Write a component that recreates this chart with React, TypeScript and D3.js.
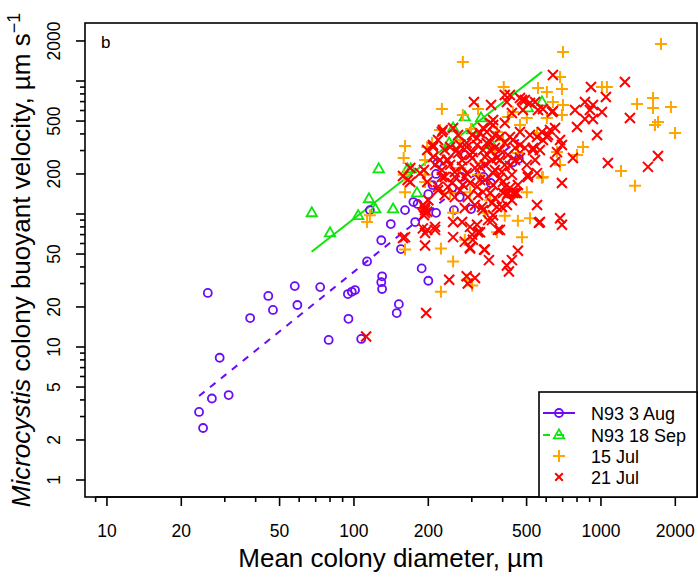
import React from 'react';
import * as d3 from 'd3';

// N93 3 Aug (purple circles): [diameter µm, velocity µm/s]
const aug3Points: [number, number][] = [
  [25.6, 25.5], [23.6, 3.25], [24.5, 2.46], [26.6, 4.1], [31.1, 4.35], [28.6, 8.3], [38, 16.5],
  [45, 24.2], [47, 19], [57.6, 28.7], [59, 20.7], [73, 28.2], [79, 11.3], [94.5, 25], [98, 26],
  [101, 26.8], [95, 16.3], [107, 11.5], [113, 44], [129, 63.5], [130, 34], [129, 30.7], [130, 27.3],
  [141, 84], [152, 21], [149, 18], [155, 54.5], [161, 107], [116, 107], [177, 87], [174, 123],
  [181, 119], [188, 39], [200, 31.5], [200, 141], [215, 102], [208, 165], [215, 200], [218, 242],
  [298, 109], [254, 107], [282, 277], [465, 260], [440, 245], [335, 190], [272, 190], [358, 171],
  [250, 157], [268, 134],
];

// N93 18 Sep (green triangles)
const sep18Points: [number, number][] = [
  [67.5, 102], [80, 72], [104, 97], [115, 130], [122, 109], [126, 218], [144, 109], [165, 218],
  [170, 218], [180, 144], [243, 342], [252, 443], [281, 536], [301, 428], [327, 527], [362, 330],
  [506, 627], [577, 695],
];

// 15 Jul (orange plus)
const jul15Points: [number, number][] = [
  [276, 1390], [702, 1652], [1750, 1897], [683, 1072], [695, 871], [556, 885], [604, 826], [404, 901],
  [1009, 901], [1057, 901], [639, 695], [702, 661], [695, 555], [604, 527], [1400, 671], [1625, 745],
  [1625, 627], [1920, 638], [1655, 467], [1702, 492], [1995, 407], [1205, 211], [1373, 163], [846, 319],
  [800, 278], [664, 292], [683, 234], [582, 190], [227, 616], [276, 555], [318, 616], [440, 584],
  [501, 527], [420, 536], [298, 436], [379, 414], [470, 467], [551, 407], [401, 360], [372, 303],
  [461, 287], [269, 360], [207, 342], [161, 325], [159, 264], [194, 255], [159, 197], [161, 146],
  [194, 174], [501, 146], [408, 97], [461, 89], [516, 93], [479, 67], [379, 73], [339, 102],
  [245, 144], [295, 146], [252, 102], [225, 55], [252, 44], [225, 26], [301, 29], [286, 32],
  [281, 64], [161, 54], [116, 98], [113, 87], [333, 242], [269, 222], [577, 187], [194, 197],
  [356, 127], [318, 197], [223, 428], [198, 319],
];

// 21 Jul (red cross)
const jul21Points: [number, number][] = [
  [639, 1109], [1250, 982], [911, 901], [1047, 758], [861, 695], [928, 661], [902, 605], [785, 605],
  [1009, 584], [861, 518], [928, 518], [800, 451], [964, 393], [1310, 527], [639, 595], [582, 616],
  [1067, 242], [1550, 226], [1702, 273], [770, 264], [652, 246], [695, 330], [664, 292], [604, 379],
  [306, 695], [359, 661], [408, 785], [416, 695], [470, 745], [492, 720], [541, 695], [634, 584],
  [695, 171], [551, 117], [683, 93], [695, 83], [561, 86], [506, 190], [551, 203], [428, 230],
  [470, 264], [449, 314], [531, 303], [582, 360], [610, 393], [652, 443], [227, 414], [198, 303],
  [209, 319], [229, 428], [252, 443], [333, 443], [356, 483], [366, 509], [408, 483], [390, 379],
  [315, 373], [286, 342], [261, 303], [238, 255], [256, 207], [286, 203], [324, 226], [362, 255],
  [366, 203], [390, 187], [428, 157], [401, 144], [372, 132], [333, 146], [309, 117], [281, 111],
  [252, 87], [295, 80], [318, 73], [213, 80], [194, 72], [161, 67], [194, 111], [227, 190],
  [219, 160], [198, 174], [185, 203], [165, 180], [169, 222], [333, 303], [390, 303], [356, 348],
  [295, 278], [315, 160], [339, 180], [436, 127], [416, 139], [440, 144], [461, 53], [436, 45],
  [416, 41], [424, 37], [352, 45], [336, 54], [243, 32], [286, 34], [309, 33], [289, 30],
  [196, 18], [194, 58], [198, 76], [213, 76], [252, 67], [295, 56], [303, 64], [301, 70],
  [324, 73], [315, 83], [349, 90], [390, 76], [274, 87], [158, 66], [366, 98], [333, 107],
  [379, 113], [416, 117], [449, 144], [401, 174], [169, 174], [194, 113], [194, 107], [194, 102],
  [190, 78], [281, 62], [295, 55], [339, 54], [383, 76], [362, 90], [397, 113], [457, 144],
  [420, 144], [506, 197], [566, 87], [233, 190], [256, 190], [281, 190], [219, 151], [256, 134],
  [289, 134], [330, 113], [362, 121], [356, 144], [366, 165], [324, 180], [408, 160], [397, 207],
  [309, 222], [274, 226], [227, 214], [240, 160], [276, 165], [428, 785], [479, 720], [516, 683],
  [556, 605], [436, 574], [483, 605], [366, 467], [345, 414], [324, 407], [301, 393], [264, 393],
  [219, 360], [209, 330], [209, 268], [245, 319], [264, 287], [286, 319], [315, 330], [345, 342],
  [372, 314], [408, 342], [440, 360], [470, 414], [516, 393], [551, 379], [577, 414], [492, 314],
  [531, 314], [420, 278], [379, 264], [339, 268], [301, 264], [274, 255], [240, 255], [112, 12],
  [158, 193], [192, 214], [190, 117], [198, 104], [192, 98], [200, 127], [233, 139], [250, 171],
  [269, 151], [295, 171], [318, 139], [339, 234], [372, 214], [408, 234], [436, 197], [461, 165],
  [501, 234], [541, 255], [470, 330], [428, 379], [372, 393], [269, 330], [245, 234], [223, 255],
  [213, 234], [233, 303], [303, 292], [356, 303], [390, 255], [449, 255], [566, 303], [622, 428],
  [683, 360],
];

// fitted power-law lines (end points, data units)
const aug3Fit: [number, number][] = [[23.6, 4.28], [465, 363]];
const sep18Fit: [number, number][] = [[67.4, 52.1], [577, 1171]];

const xMajorTicks = [10, 20, 50, 100, 200, 500, 1000, 2000];
const xMinorTicks = [9, 30, 40, 60, 70, 80, 90, 300, 400, 600, 700, 800, 900];
const yMajorTicks = [1, 2, 5, 10, 20, 50, 100, 200, 500, 1000, 2000];
const yTickLabels = ['1', '2', '5', '10', '20', '50', '', '200', '500', '', '2000'];
const yMinorTicks = [3, 4, 6, 7, 8, 9, 30, 40, 60, 70, 80, 90, 300, 400, 600, 700, 800, 900];
const legendLabels = ['N93 3 Aug', 'N93 18 Sep', '15 Jul', '21 Jul'];

const PURPLE = '#6a0cf5';
const GREEN = '#0ee40e';
const ORANGE = '#ffa500';
const RED = '#ff0000';
const FONT = '"Liberation Sans", Arial, Helvetica, sans-serif';

const W = 698, H = 578;
const L = 85, R = 697, T = 23, B = 497;

const Circle = ({ x, y, c }: any) => <circle cx={x} cy={y} r={4} fill="none" stroke={c} strokeWidth={1.8} />;
const Tri = ({ x, y, c }: any) => (
  <path d={`M${x},${y - 5.6}L${x + 5.2},${y + 3.4}L${x - 5.2},${y + 3.4}Z`} fill="none" stroke={c} strokeWidth={1.8} />
);
const Plus = ({ x, y, c, s = 6 }: any) => (
  <path d={`M${x - s},${y}H${x + s}M${x},${y - s}V${y + s}`} stroke={c} strokeWidth={2} />
);
const Cross = ({ x, y, c, s = 5 }: any) => (
  <path d={`M${x - s},${y - s}L${x + s},${y + s}M${x - s},${y + s}L${x + s},${y - s}`} stroke={c} strokeWidth={2} />
);

export default function App() {
  const x = d3.scaleLog().domain([8.15, 2448]).range([L, R]);
  const y = d3.scaleLog().domain([0.745, 2730]).range([B, T]);
  const line = d3.line<[number, number]>().x((d) => x(d[0])).y((d) => y(d[1]));

  const legY = [413, 435, 456, 477];
  const legMx = 559;

  return (
    <svg width={W} height={H} style={{ position: 'absolute', left: 0, top: 0, background: '#fff' }} fontFamily={FONT}>
      <rect x={0} y={0} width={W} height={H} fill="#fff" />
      <defs>
        <clipPath id="plotclip">
          <rect x={L} y={T} width={R - L} height={B - T} />
        </clipPath>
      </defs>

      <g clipPath="url(#plotclip)">
        <path d={line(aug3Fit) || ''} fill="none" stroke={PURPLE} strokeWidth={2} strokeDasharray="7,7" />
        <path d={line(sep18Fit) || ''} fill="none" stroke={GREEN} strokeWidth={2} />
        {aug3Points.map((d, i) => <Circle key={'a' + i} x={x(d[0])} y={y(d[1])} c={PURPLE} />)}
        {sep18Points.map((d, i) => <Tri key={'s' + i} x={x(d[0])} y={y(d[1])} c={GREEN} />)}
        {jul15Points.map((d, i) => <Plus key={'o' + i} x={x(d[0])} y={y(d[1])} c={ORANGE} />)}
        {jul21Points.map((d, i) => <Cross key={'r' + i} x={x(d[0])} y={y(d[1])} c={RED} />)}
      </g>

      {/* box */}
      <rect x={L} y={T} width={R - L} height={B - T} fill="none" stroke="#000" strokeWidth={1.6} />

      {/* x axis */}
      <line x1={x(9)} x2={x(2000)} y1={B} y2={B} stroke="#000" strokeWidth={1.6} />
      {xMajorTicks.map((t) => (
        <g key={'xt' + t}>
          <line x1={x(t)} x2={x(t)} y1={B} y2={B + 9} stroke="#000" strokeWidth={1.6} />
          <text x={x(t)} y={537} fontSize={17.5} textAnchor="middle" fill="#000">{t}</text>
        </g>
      ))}
      {xMinorTicks.map((t) => (
        <line key={'xm' + t} x1={x(t)} x2={x(t)} y1={B} y2={B + 5} stroke="#000" strokeWidth={1.6} />
      ))}

      {/* y axis */}
      {yMajorTicks.map((t, i) => (
        <g key={'yt' + t}>
          <line x1={L - 9} x2={L} y1={y(t)} y2={y(t)} stroke="#000" strokeWidth={1.6} />
          {yTickLabels[i] && (
            <text transform={`translate(60,${y(t)}) rotate(-90)`} fontSize={17.5} textAnchor="middle" fill="#000">
              {yTickLabels[i]}
            </text>
          )}
        </g>
      ))}
      {yMinorTicks.map((t) => (
        <line key={'ym' + t} x1={L - 5} x2={L} y1={y(t)} y2={y(t)} stroke="#000" strokeWidth={1.6} />
      ))}

      {/* panel label */}
      <text x={101} y={48} fontSize={17} fill="#000">b</text>

      {/* axis titles */}
      <text x={(L + R) / 2} y={567} fontSize={26} textAnchor="middle" fill="#000">
        Mean colony diameter, µm
      </text>
      <text transform={`translate(30,${(T + B) / 2}) rotate(-90)`} fontSize={26} textAnchor="middle" fill="#000">
        <tspan fontStyle="italic">Microcystis</tspan>
        <tspan> colony buoyant velocity, µm s</tspan>
        <tspan dy={-10} fontSize={18}>−1</tspan>
      </text>

      {/* legend */}
      <rect x={539} y={392} width={R - 539} height={B - 392} fill="#fff" stroke="#000" strokeWidth={1.6} />
      <line x1={543} x2={575} y1={legY[0]} y2={legY[0]} stroke={PURPLE} strokeWidth={2} />
      <Circle x={legMx} y={legY[0]} c={PURPLE} />
      <line x1={543} x2={568} y1={legY[1]} y2={legY[1]} stroke={GREEN} strokeWidth={2} strokeDasharray="7,7" />
      <Tri x={legMx} y={legY[1]} c={GREEN} />
      <Plus x={legMx} y={legY[2]} c={ORANGE} />
      <Cross x={legMx} y={legY[3]} c={RED} s={3.8} />
      {legendLabels.map((lab, i) => (
        <text key={lab} x={591} y={legY[i] + 6.5} fontSize={18} fill="#000">{lab}</text>
      ))}
    </svg>
  );
}
